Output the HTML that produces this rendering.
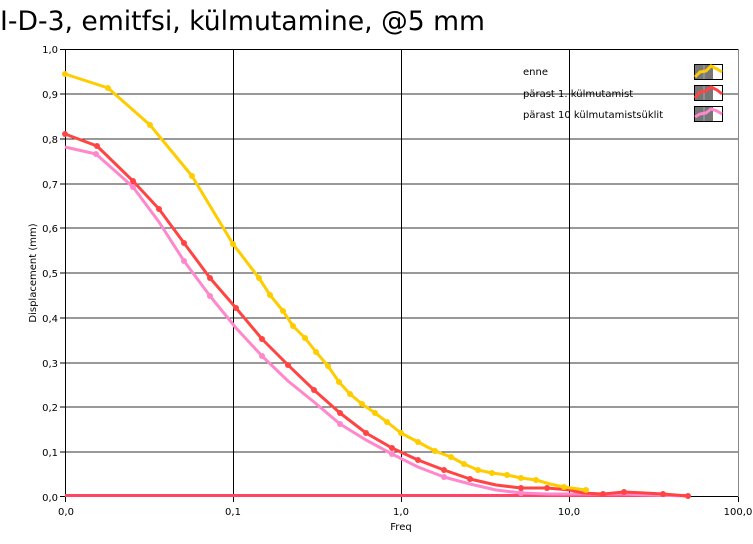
<!DOCTYPE html><html><head><style>body{margin:0;background:#fff;width:753px;height:539px;overflow:hidden}svg{font-family:"DejaVu Sans","Liberation Sans",sans-serif}</style></head><body>
<svg width="753" height="539" xmlns="http://www.w3.org/2000/svg">
<text x="0" y="30" font-size="27" fill="#000" textLength="485" lengthAdjust="spacingAndGlyphs">I-D-3, emitfsi, külmutamine, @5 mm</text>
<g stroke="#333" stroke-width="1">
<line x1="65" y1="94" x2="738" y2="94"/><line x1="65" y1="139" x2="738" y2="139"/><line x1="65" y1="184" x2="738" y2="184"/><line x1="65" y1="228" x2="738" y2="228"/><line x1="65" y1="273" x2="738" y2="273"/><line x1="65" y1="318" x2="738" y2="318"/><line x1="65" y1="363" x2="738" y2="363"/><line x1="65" y1="407" x2="738" y2="407"/><line x1="65" y1="452" x2="738" y2="452"/>
</g>
<g stroke="#000"><line x1="233.5" y1="49" x2="233.5" y2="497"/><line x1="401.5" y1="49" x2="401.5" y2="497"/><line x1="569.5" y1="49" x2="569.5" y2="497"/></g>
<rect x="65.5" y="49.5" width="673" height="447" fill="none" stroke="#000"/>
<line x1="738.5" y1="49" x2="738.5" y2="497" stroke="#888"/>
<g font-size="10" fill="#000" text-anchor="end">
<text x="58" y="53">1,0</text><text x="58" y="98">0,9</text><text x="58" y="143">0,8</text><text x="58" y="188">0,7</text><text x="58" y="232">0,6</text><text x="58" y="277">0,5</text><text x="58" y="322">0,4</text><text x="58" y="367">0,3</text><text x="58" y="411">0,2</text><text x="58" y="456">0,1</text><text x="58" y="501">0,0</text>
</g>
<g stroke="#000"><line x1="60" y1="49.5" x2="65" y2="49.5"/><line x1="60" y1="94" x2="65" y2="94"/><line x1="60" y1="139" x2="65" y2="139"/><line x1="60" y1="184" x2="65" y2="184"/><line x1="60" y1="228" x2="65" y2="228"/><line x1="60" y1="273" x2="65" y2="273"/><line x1="60" y1="318" x2="65" y2="318"/><line x1="60" y1="363" x2="65" y2="363"/><line x1="60" y1="407" x2="65" y2="407"/><line x1="60" y1="452" x2="65" y2="452"/><line x1="60" y1="496.5" x2="65" y2="496.5"/>
<line x1="65.5" y1="497" x2="65.5" y2="502"/><line x1="233.5" y1="497" x2="233.5" y2="502"/><line x1="401.5" y1="497" x2="401.5" y2="502"/><line x1="569.5" y1="497" x2="569.5" y2="502"/><line x1="738.5" y1="497" x2="738.5" y2="502"/></g>
<g font-size="10" text-anchor="middle"><text x="66" y="515">0,0</text><text x="233" y="515">0,1</text><text x="401" y="515">1,0</text><text x="569" y="515">10,0</text><text x="738" y="515">100,0</text><text x="401" y="530">Freq</text></g>
<text font-size="10" transform="translate(36,273) rotate(-90)" text-anchor="middle">Displacement (mm)</text>
<line x1="65" y1="495.5" x2="688" y2="495.5" stroke="#f46" stroke-width="3"/>
<g fill="none" stroke-width="3" stroke-linejoin="round">
<polyline stroke="#f8c" points="65,147 96,154 133,187 159,222 184,261 210,296 236,328 262,356 288,381 314,402 340,424 366,440 392,454 418,467 444,477 470,484 496,490 521,493 547,494 588,494 620,494 688,496"/>
<polyline stroke="#f44" points="65,134 97,146 133,181 159,209 184,243 210,278 236,308 262,339 288,365 314,390 340,413 366,433 392,448 418,460 444,470 470,479 496,485 521,488 547,488 570,490 583,493 603,494 624,492 645,493 663,494 688,496"/>
<polyline stroke="#fc0" points="65,74 108,88 150,125 192,176 233,244 259,278 270,295 283,311 293,326 305,338 316,352 328,366 339,382 350,394 362,404 375,413 387,422 401,433 418,442 435,451 451,457 464,464 478,470 492,473 507,475 521,478 536,480 550,484 564,487 586,490"/>
</g>
<g fill="#f8c"><circle cx="96" cy="154" r="3"/><circle cx="133" cy="187" r="3"/><circle cx="184" cy="261" r="3"/><circle cx="210" cy="296" r="3"/><circle cx="262" cy="356" r="3"/><circle cx="340" cy="424" r="3"/><circle cx="392" cy="454" r="3"/><circle cx="444" cy="477" r="3"/><circle cx="521" cy="493" r="3"/></g>
<g fill="#f44"><circle cx="65" cy="134" r="3"/><circle cx="97" cy="146" r="3"/><circle cx="133" cy="181" r="3"/><circle cx="159" cy="209" r="3"/><circle cx="184" cy="243" r="3"/><circle cx="210" cy="278" r="3"/><circle cx="236" cy="308" r="3"/><circle cx="262" cy="339" r="3"/><circle cx="288" cy="365" r="3"/><circle cx="314" cy="390" r="3"/><circle cx="340" cy="413" r="3"/><circle cx="366" cy="433" r="3"/><circle cx="392" cy="448" r="3"/><circle cx="418" cy="460" r="3"/><circle cx="444" cy="470" r="3"/><circle cx="470" cy="479" r="3"/><circle cx="521" cy="488" r="3"/><circle cx="547" cy="488" r="3"/><circle cx="603" cy="494" r="3"/><circle cx="624" cy="492" r="3"/><circle cx="663" cy="494" r="3"/><circle cx="688" cy="496" r="3"/></g>
<g fill="#fc0"><circle cx="65" cy="74" r="3"/><circle cx="108" cy="88" r="3"/><circle cx="150" cy="125" r="3"/><circle cx="192" cy="176" r="3"/><circle cx="233" cy="244" r="3"/><circle cx="259" cy="278" r="3"/><circle cx="270" cy="295" r="3"/><circle cx="283" cy="311" r="3"/><circle cx="293" cy="326" r="3"/><circle cx="305" cy="338" r="3"/><circle cx="316" cy="352" r="3"/><circle cx="328" cy="366" r="3"/><circle cx="339" cy="382" r="3"/><circle cx="350" cy="394" r="3"/><circle cx="362" cy="404" r="3"/><circle cx="375" cy="413" r="3"/><circle cx="387" cy="422" r="3"/><circle cx="401" cy="433" r="3"/><circle cx="418" cy="442" r="3"/><circle cx="435" cy="451" r="3"/><circle cx="451" cy="457" r="3"/><circle cx="464" cy="464" r="3"/><circle cx="478" cy="470" r="3"/><circle cx="492" cy="473" r="3"/><circle cx="507" cy="475" r="3"/><circle cx="521" cy="478" r="3"/><circle cx="536" cy="480" r="3"/><circle cx="564" cy="487" r="3"/><circle cx="586" cy="490" r="3"/></g>
<g font-size="10"><text x="523" y="75">enne</text><text x="523" y="97">pärast 1. külmutamist</text><text x="523" y="118">pärast 10 külmutamistsüklit</text></g>
<g>
<rect x="694.5" y="64.5" width="28" height="15" fill="#fff" stroke="#000"/><rect x="695" y="65" width="18" height="14" fill="#777"/><line x1="704" y1="65" x2="704" y2="79" stroke="#aaa"/><polyline points="695,77 700,72 706,71 711,66 717,69 722,72" fill="none" stroke="#fc0" stroke-width="3"/>
<rect x="694.5" y="85.5" width="28" height="15" fill="#fff" stroke="#000"/><rect x="695" y="86" width="18" height="14" fill="#777"/><line x1="704" y1="86" x2="704" y2="100" stroke="#aaa"/><polyline points="695,98 700,92 706,91 711,87 717,90 722,94" fill="none" stroke="#f44" stroke-width="3"/>
<rect x="694.5" y="106.5" width="28" height="15" fill="#fff" stroke="#000"/><rect x="695" y="107" width="18" height="14" fill="#777"/><line x1="704" y1="107" x2="704" y2="121" stroke="#aaa"/><polyline points="695,117 700,114 706,113 711,109 717,111 722,114" fill="none" stroke="#f8c" stroke-width="3"/>
</g>
</svg></body></html>
